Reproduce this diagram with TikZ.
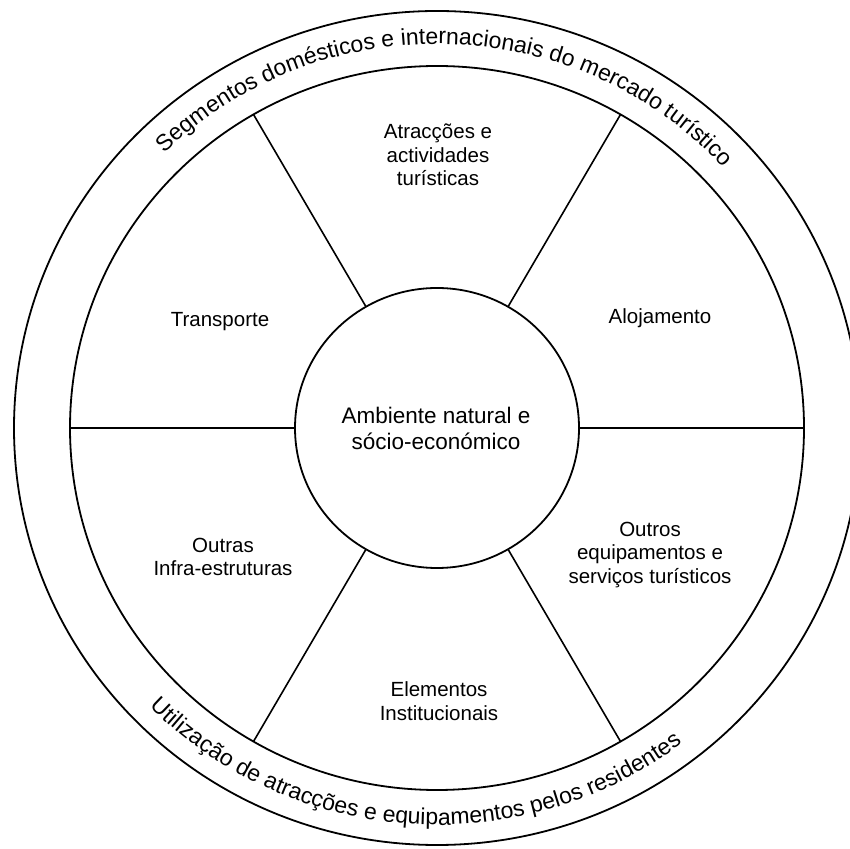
\documentclass[tikz,border=0pt]{standalone}
\usepackage{fontspec}
\setmainfont{Liberation Sans}
\usetikzlibrary{calc,decorations.text}
\newcommand\ringfont{\fontsize{23}{27}\selectfont}
\begin{document}
\begin{tikzpicture}[x=1pt,y=1pt,
  ring/.style={line width=1.8pt},
  spoke/.style={line width=1.6pt},
  sector/.style={align=center, font=\fontsize{20.5}{23.5}\selectfont, inner sep=0pt},
  hubtext/.style={align=center, font=\fontsize{22.5}{26}\selectfont, inner sep=0pt}]
\useasboundingbox (0,0) rectangle (850,848);
\coordinate (c) at (437,420);

% outer rim, inner rim and the central hub
\draw[ring] (c) ellipse [x radius=423, y radius=417];
\draw[ring] (c) ellipse [x radius=367, y radius=362];
\draw[ring] (c) ellipse [x radius=142, y radius=140];

% six spokes between hub and inner rim
\foreach \a in {0,60,...,300}{
  \coordinate (hub\a) at ($(c)+(\a:142 and 140)$);
  \coordinate (rim\a) at ($(c)+(\a:367 and 362)$);
  \draw[spoke] (hub\a) -- (rim\a);
}

% text running round the outer band
\path[decorate, decoration={text along path, text align=center,
  text={|\ringfont|Segmentos domésticos e internacionais do mercado turístico}}]
  (c) ++(178.5:390 and 384) arc[start angle=178.5, end angle=-1.5, x radius=390, y radius=384];
\path[decorate, decoration={text along path, text align=center,
  text={|\ringfont|Utilização de atracções e equipamentos pelos residentes}}]
  (c) ++(176:403 and 397) arc[start angle=176, end angle=356, x radius=403, y radius=397];

% labels
\node[hubtext] (hub) at (436,420) {Ambiente natural e\\sócio-económico};
\node[sector] (attr) at (438,693) {Atracções e\\actividades\\turísticas};
\node[sector] (lodg) at (660,530) {Alojamento};
\node[sector] (trans) at (220,526) {Transporte};
\node[sector] (infra) at (223,291) {Outras\\Infra-estruturas};
\node[sector] (serv) at (650,293) {Outros\\equipamentos e\\serviços turísticos};
\node[sector] (inst) at (439,147) {Elementos\\Institucionais};
\end{tikzpicture}
\end{document}
